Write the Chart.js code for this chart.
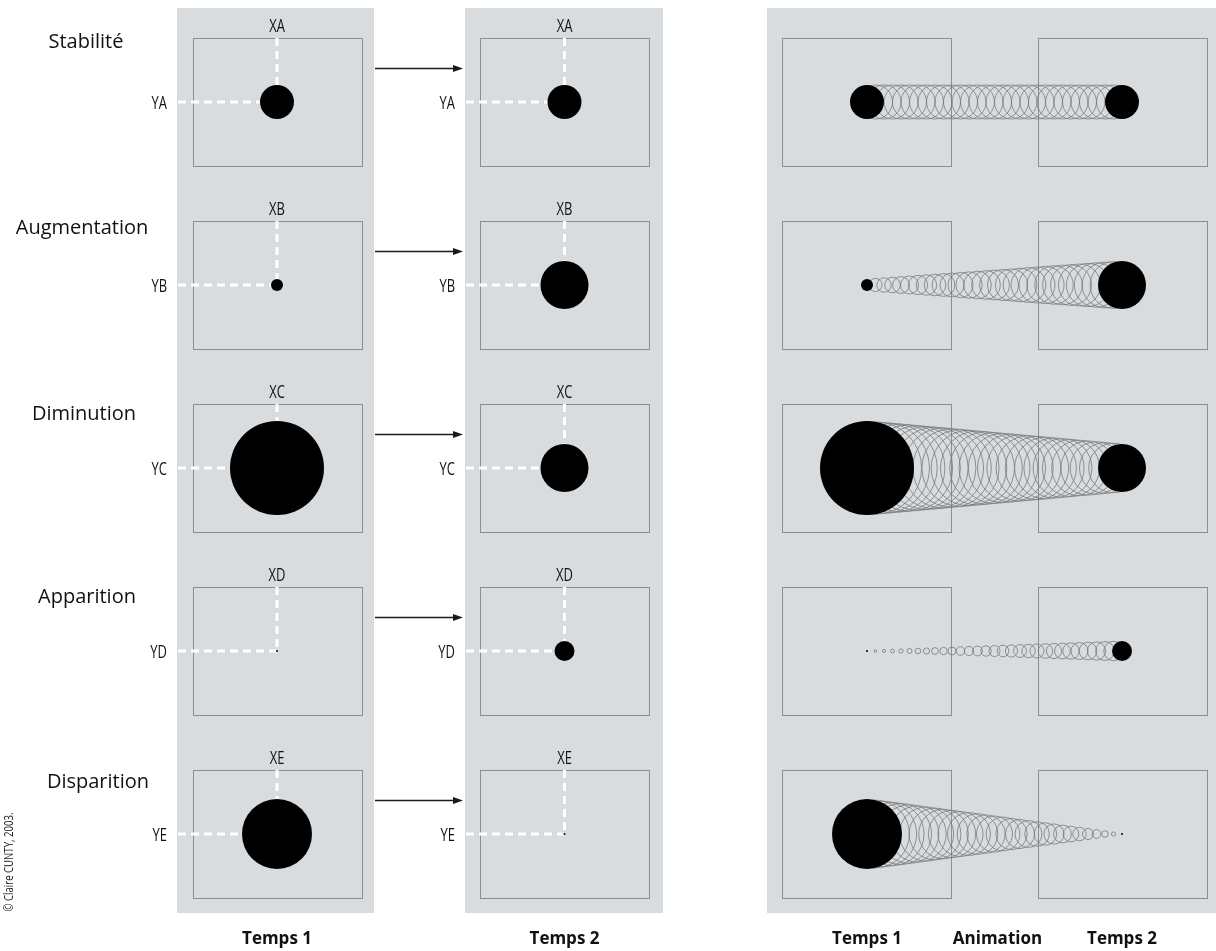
<!DOCTYPE html>
<html>
<head>
<meta charset="utf-8">
<script src="https://cdn.jsdelivr.net/npm/chart.js@4.4.1/dist/chart.umd.min.js"></script>
<style>
  html, body { margin: 0; padding: 0; background: #ffffff; }
  #wrap { width: 1216px; height: 951px; position: relative; }
</style>
</head>
<body>
<div id="wrap"><canvas id="c" width="1216" height="951"></canvas></div>
<script>
// ---------- DATA ----------
const categories = ['Stabilité', 'Augmentation', 'Diminution', 'Apparition', 'Disparition'];
const rowCodes = ['A', 'B', 'C', 'D', 'E'];
const columnLabels = ['Temps 1', 'Temps 2'];
const animationLabels = ['Temps 1', 'Animation', 'Temps 2'];
const radiusT1 = [17, 6, 47, 1, 35];
const radiusT2 = [17, 24, 24, 10, 1];
// intermediate animation frames (radius of each successive circle)
const animStabilite = [17, 17, 17, 17, 17, 17, 17, 17, 17, 17, 17, 17, 17, 17, 17, 17, 17, 17, 17, 17, 17, 17, 17, 17, 17, 17, 17, 17, 17];
const animAugmentation = [6.6, 7.2, 7.8, 8.4, 9, 9.6, 10.2, 10.8, 11.4, 12, 12.6, 13.2, 13.8, 14.4, 15, 15.6, 16.2, 16.8, 17.4, 18, 18.6, 19.2, 19.8, 20.4, 21, 21.6, 22.2, 22.8, 23.4];
const animDiminution = [46.2, 45.5, 44.7, 43.9, 43.2, 42.4, 41.6, 40.9, 40.1, 39.3, 38.6, 37.8, 37.0, 36.3, 35.5, 34.7, 34.0, 33.2, 32.4, 31.7, 30.9, 30.1, 29.4, 28.6, 27.8, 27.1, 26.3, 25.5, 24.8];
const animApparition = [1.3, 1.6, 1.9, 2.2, 2.5, 2.8, 3.1, 3.4, 3.7, 4, 4.3, 4.6, 4.9, 5.2, 5.5, 5.8, 6.1, 6.4, 6.7, 7, 7.3, 7.6, 7.9, 8.2, 8.5, 8.8, 9.1, 9.4, 9.7];
const animDisparition = [33.9, 32.7, 31.6, 30.5, 29.3, 28.2, 27.1, 25.9, 24.8, 23.7, 22.5, 21.4, 20.3, 19.1, 18, 16.9, 15.7, 14.6, 13.5, 12.3, 11.2, 10.1, 8.9, 7.8, 6.7, 5.5, 4.4, 3.3, 2.1];
const animFrames = [animStabilite, animAugmentation, animDiminution, animApparition, animDisparition];

// ---------- LAYOUT ----------
const colX = [277, 564.5, 867, 1122];          // centres of the four boxes (x scale units = px)
const panels = [[177, 374], [465, 663], [767, 1220]];
const boxHalfW = 84.5, boxHalfH = 64;
const panelTop = 8, panelBottom = 913;
const rowLabelX = [86, 82, 84, 87, 98];
const rowLabelDy = [-60, -57, -54, -54, -52];
const PANEL_FILL = '#d9dcdf';
const BOX_STROKE = '#8e8e8e';
const SANS = '"Open Sans", "Noto Sans", sans-serif';

function bubbleData(xIndex, radii) {
  return radii.map((r, i) => ({ x: colX[xIndex], y: i, r: r }));
}
const t1Points = bubbleData(0, radiusT1).concat(bubbleData(2, radiusT1));
const t2Points = bubbleData(1, radiusT2).concat(bubbleData(3, radiusT2));
const animPoints = [];
animFrames.forEach((frames, row) => {
  const n = frames.length + 1;
  frames.forEach((r, k) => {
    animPoints.push({ x: colX[2] + (colX[3] - colX[2]) * (k + 1) / n, y: row, r: r });
  });
});

function narrowText(ctx, text, x, y, align, squeeze) {
  ctx.save();
  ctx.translate(x, y);
  ctx.scale(squeeze, 1);
  ctx.textAlign = align;
  ctx.fillText(text, 0, 0);
  ctx.restore();
}

const decorPlugin = {
  id: 'decor',
  beforeDatasetsDraw(chart) {
    const ctx = chart.ctx;
    const xs = chart.scales.x, ys = chart.scales.y;
    ctx.save();
    // panels
    ctx.fillStyle = PANEL_FILL;
    panels.forEach(p => ctx.fillRect(p[0], panelTop, p[1] - p[0], panelBottom - panelTop));
    // boxes
    ctx.strokeStyle = BOX_STROKE;
    ctx.lineWidth = 1;
    categories.forEach((c, i) => {
      const cy = ys.getPixelForValue(i);
      colX.forEach(cx0 => {
        const cx = xs.getPixelForValue(cx0);
        ctx.strokeRect(Math.round(cx - boxHalfW) + 0.5, Math.round(cy - boxHalfH) + 0.5, boxHalfW * 2, boxHalfH * 2);
      });
    });
    // dashed guides (Temps 1 and Temps 2 panels)
    ctx.strokeStyle = '#ffffff';
    ctx.lineWidth = 3;
    ctx.setLineDash([8, 5]);
    categories.forEach((c, i) => {
      const cy = ys.getPixelForValue(i);
      [0, 1].forEach(j => {
        const cx = xs.getPixelForValue(colX[j]);
        ctx.beginPath();
        ctx.moveTo(cx, cy - boxHalfH);
        ctx.lineTo(cx, cy);
        ctx.stroke();
        ctx.beginPath();
        ctx.moveTo(panels[j][0] + 1, cy);
        ctx.lineTo(cx, cy);
        ctx.stroke();
      });
    });
    ctx.setLineDash([]);
    // arrows
    ctx.strokeStyle = '#1a1a1a';
    ctx.fillStyle = '#1a1a1a';
    ctx.lineWidth = 1.3;
    categories.forEach((c, i) => {
      const y = Math.round(ys.getPixelForValue(i) - 34) + 0.5;
      const x0 = panels[0][1] + 1, x1 = panels[1][0] - 2;
      ctx.beginPath();
      ctx.moveTo(x0, y);
      ctx.lineTo(x1 - 8, y);
      ctx.stroke();
      ctx.beginPath();
      ctx.moveTo(x1, y);
      ctx.lineTo(x1 - 10, y - 3.5);
      ctx.lineTo(x1 - 10, y + 3.5);
      ctx.closePath();
      ctx.fill();
    });
    ctx.restore();
  },
  afterDraw(chart) {
    const ctx = chart.ctx;
    const xs = chart.scales.x, ys = chart.scales.y;
    ctx.save();
    ctx.fillStyle = '#111111';
    // axis-like labels XA / YA
    ctx.font = '500 18px ' + SANS;
    ctx.textBaseline = 'middle';
    categories.forEach((c, i) => {
      const cy = ys.getPixelForValue(i);
      [0, 1].forEach(j => {
        const cx = xs.getPixelForValue(colX[j]);
        narrowText(ctx, 'X' + rowCodes[i], cx, cy - boxHalfH - 11, 'center', 0.72);
        narrowText(ctx, 'Y' + rowCodes[i], panels[j][0] - 10, cy + 2, 'right', 0.72);
      });
    });
    // row titles
    ctx.font = '20px ' + SANS;
    ctx.textAlign = 'center';
    categories.forEach((c, i) => {
      const cy = ys.getPixelForValue(i);
      ctx.fillText(c, rowLabelX[i], cy + rowLabelDy[i]);
    });
    // bottom labels
    ctx.font = 'bold 17px ' + SANS;
    ctx.fillText(columnLabels[0], xs.getPixelForValue(colX[0]), 939);
    ctx.fillText(columnLabels[1], xs.getPixelForValue(colX[1]), 939);
    ctx.fillText(animationLabels[0], xs.getPixelForValue(colX[2]), 939);
    ctx.fillText(animationLabels[1], xs.getPixelForValue((colX[2] + colX[3]) / 2) + 3, 939);
    ctx.fillText(animationLabels[2], xs.getPixelForValue(colX[3]), 939);
    // copyright
    ctx.font = '500 13px ' + SANS;
    ctx.fillStyle = '#222222';
    ctx.translate(9, 862);
    ctx.rotate(-Math.PI / 2);
    narrowText(ctx, '© Claire CUNTY, 2003.', 0, 0, 'center', 0.74);
    ctx.restore();
  }
};

new Chart(document.getElementById('c'), {
  type: 'bubble',
  data: {
    datasets: [
      { label: 'Temps 1', data: t1Points, backgroundColor: '#000000', borderWidth: 0, order: 0, clip: false },
      { label: 'Temps 2', data: t2Points, backgroundColor: '#000000', borderWidth: 0, order: 0, clip: false },
      { label: 'Animation', data: animPoints, backgroundColor: 'rgba(0,0,0,0)', borderColor: '#7a7a7a', borderWidth: 0.8, order: 1, clip: false }
    ]
  },
  options: {
    responsive: false,
    devicePixelRatio: 1,
    animation: false,
    layout: { autoPadding: false, padding: { top: 10.5, bottom: 25.5, left: 0, right: 0 } },
    scales: {
      x: { type: 'linear', min: 0, max: 1216, display: false },
      y: { type: 'linear', min: -0.5, max: 4.5, reverse: true, display: false }
    },
    plugins: { legend: { display: false }, tooltip: { enabled: false } },
    events: []
  },
  plugins: [decorPlugin]
});
</script>
</body>
</html>
